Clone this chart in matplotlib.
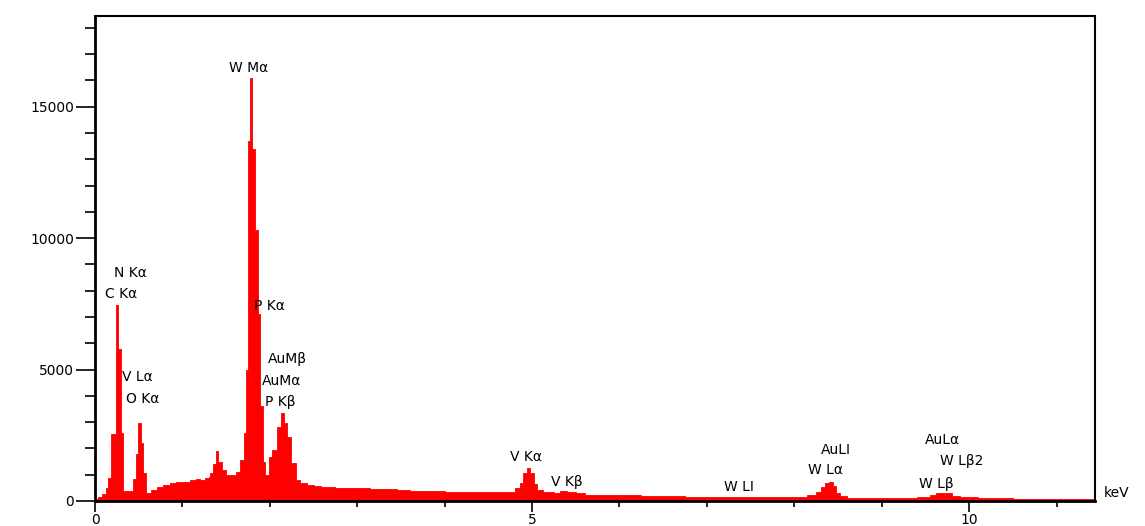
import matplotlib
matplotlib.use("Agg")
import matplotlib.pyplot as plt
from matplotlib.ticker import MultipleLocator

# Spectrum: channel start energy (keV) and counts
energy = [0.00, 0.04, 0.08, 0.13, 0.15, 0.18, 0.235, 0.265, 0.30, 0.32,
          0.44, 0.47, 0.49, 0.53, 0.55, 0.58, 0.64, 0.71, 0.78, 0.86,
          0.93, 1.00, 1.09, 1.15, 1.20, 1.26, 1.30, 1.32, 1.35, 1.38,
          1.41, 1.45, 1.50, 1.56, 1.61, 1.66, 1.70, 1.73, 1.75, 1.77,
          1.80, 1.83, 1.86, 1.89, 1.92, 1.95, 1.99, 2.03, 2.08, 2.13,
          2.16, 2.20, 2.24, 2.30, 2.35, 2.42, 2.50, 2.58, 2.66, 2.75,
          2.85, 3.00, 3.15, 3.30, 3.45, 3.60, 3.80, 4.00, 4.20, 4.40,
          4.60, 4.75, 4.80, 4.86, 4.90, 4.94, 4.98, 5.02, 5.06, 5.12,
          5.25, 5.32, 5.40, 5.50, 5.60, 5.80, 6.00, 6.25, 6.50, 6.75,
          7.00, 7.25, 7.50, 7.75, 8.00, 8.15, 8.25, 8.30, 8.35, 8.40,
          8.44, 8.48, 8.52, 8.60, 8.80, 9.00, 9.20, 9.40, 9.55, 9.62,
          9.72, 9.80, 9.90, 10.00, 10.10, 10.30, 10.50, 10.75, 11.00, 11.20,
          11.44]
counts = [80, 160, 270, 480, 880, 2550, 7450, 5800, 2600, 380,
          840, 1800, 2980, 2200, 1070, 300, 420, 520, 600, 690,
          720, 740, 780, 820, 800, 860, 900, 1060, 1400, 1910,
          1490, 1180, 990, 980, 1110, 1560, 2580, 4980, 13700, 16100,
          13400, 10300, 7100, 3600, 1500, 1000, 1680, 1950, 2800, 3340,
          2960, 2440, 1450, 800, 690, 600, 560, 520, 540, 500,
          510, 490, 470, 440, 420, 390, 380, 360, 350, 340,
          330, 360, 480, 700, 1050, 1250, 1050, 640, 430, 330,
          300, 370, 340, 290, 240, 230, 220, 200, 180, 170,
          160, 150, 150, 140, 160, 230, 330, 520, 680, 720,
          580, 320, 190, 130, 120, 120, 130, 150, 220, 300,
          290, 200, 160, 140, 110, 100, 90, 80, 80, 70,
          70]

# Peak labels: text, energy (keV), counts
label_text = ["W Mα", "N Kα", "C Kα", "V Lα", "O Kα", "P Kα", "AuMβ", "AuMα",
              "P Kβ", "V Kα", "V Kβ", "W LI", "AuLI", "W Lα", "AuLα", "W Lβ2", "W Lβ"]
label_x = [1.76, 0.41, 0.30, 0.49, 0.54, 2.00, 2.20, 2.13,
           2.12, 4.93, 5.40, 7.37, 8.48, 8.36, 9.70, 9.92, 9.63]
label_y = [16460, 8670, 7870, 4710, 3870, 7410, 5400, 4560,
           3760, 1670, 720, 530, 1940, 1180, 2320, 1520, 650]

x_major = [0, 5, 10]
y_major = [0, 5000, 10000, 15000]

fig = plt.figure(figsize=(11.45, 5.26), dpi=100)
ax = fig.add_axes([95 / 1145, 1 - 501 / 526, 1000 / 1145, 485 / 526])

ax.fill_between(energy, counts, step="post", color="#ff0000", lw=0.6,
                edgecolor="#ff0000")

ax.set_xlim(0, 11.44)
ax.set_ylim(0, 18450)

ax.set_xticks(x_major)
ax.set_xticklabels([str(v) for v in x_major])
ax.xaxis.set_minor_locator(MultipleLocator(1))
ax.set_yticks(y_major)
ax.set_yticklabels([str(v) for v in y_major])
ax.yaxis.set_minor_locator(MultipleLocator(1000))

ax.tick_params(axis="y", which="major", direction="out", length=14, width=1.2,
               labelsize=10, pad=1)
ax.tick_params(axis="y", which="minor", direction="out", length=7, width=1.2)
ax.tick_params(axis="x", which="major", direction="out", length=8, width=1.2,
               labelsize=10, pad=1)
ax.tick_params(axis="x", which="minor", direction="out", length=4, width=1.2)

for s in ax.spines.values():
    s.set_linewidth(1.5)
    s.set_color("black")
ax.spines["left"].set_linewidth(2)
ax.spines["bottom"].set_linewidth(2)

for t, x, y in zip(label_text, label_x, label_y):
    ax.text(x, y, t, ha="center", va="center", fontsize=10, color="black")

ax.text(1.009, 0.016, "keV", transform=ax.transAxes, ha="left", va="center",
        fontsize=10, color="black")

fig.savefig("out.png", dpi=100)
